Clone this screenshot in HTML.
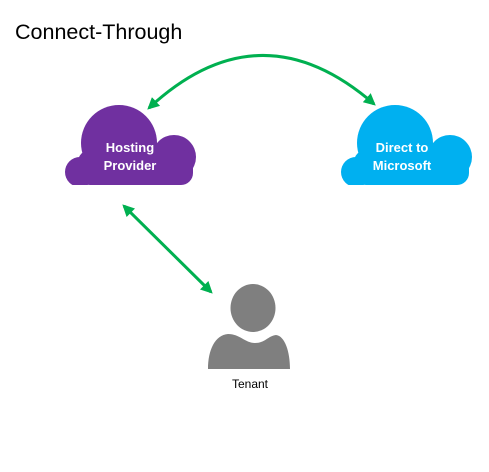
<!DOCTYPE html>
<html><head><meta charset="utf-8"><style>
body{margin:0;background:#fff;width:489px;height:467px;overflow:hidden}
</style></head><body>
<svg width="489" height="467" viewBox="0 0 489 467" xmlns="http://www.w3.org/2000/svg" style="font-family:'Liberation Sans',sans-serif">
<defs>
<clipPath id="c1"><rect x="0" y="0" width="489" height="185"/></clipPath>
<marker id="ah" viewBox="0 0 10 10" refX="8" refY="5" markerWidth="4" markerHeight="4" orient="auto-start-reverse"><path d="M0,0 L10,5 L0,10 z" fill="#00b050"/></marker>
</defs>
<text x="15" y="39" font-size="21.5" fill="#000">Connect-Through</text>
<g clip-path="url(#c1)">
<g fill="#7030a0">
<circle cx="119" cy="143" r="38"/><circle cx="174" cy="157" r="22"/><circle cx="80" cy="172" r="15"/>
<rect x="78" y="150" width="115" height="35" rx="12"/>
</g>
<g fill="#00b0f0" transform="translate(276,0)">
<circle cx="119" cy="143" r="38"/><circle cx="174" cy="157" r="22"/><circle cx="80" cy="172" r="15"/>
<rect x="78" y="150" width="115" height="35" rx="12"/>
</g>
</g>
<g fill="#fff" font-weight="bold" font-size="13" text-anchor="middle">
<text x="130" y="152">Hosting</text><text x="130" y="170">Provider</text>
<text x="402" y="152">Direct to</text><text x="402" y="170">Microsoft</text>
</g>
<path d="M149,108 Q260,5 374,104" fill="none" stroke="#00b050" stroke-width="3" marker-start="url(#ah)" marker-end="url(#ah)"/>
<line x1="124" y1="206" x2="211" y2="292" stroke="#00b050" stroke-width="3" marker-start="url(#ah)" marker-end="url(#ah)"/>
<g fill="#7f7f7f">
<ellipse cx="253" cy="308" rx="22.5" ry="24"/>
<path d="M208,369 C208,350 215,335 228,334 C240,334 245,343 255,343 C265,343 268,336 276,335 C285,336 290,352 290,369 Z"/>
</g>
<text x="250" y="388" font-size="12" text-anchor="middle" fill="#000">Tenant</text>
</svg>
</body></html>
